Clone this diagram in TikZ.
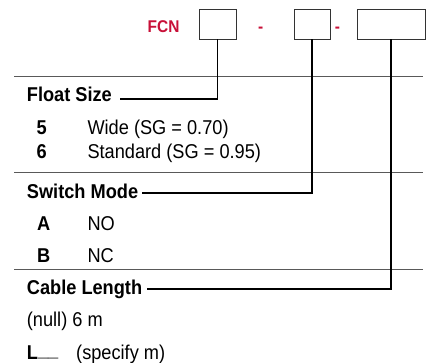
\documentclass[tikz,border=0pt]{standalone}
\usepackage{fontspec}
\setmainfont{Liberation Sans}[FakeStretch=0.91]
\definecolor{codered}{RGB}{200,16,56}

\begin{document}
\begin{tikzpicture}[x=1pt,y=-1pt,
  txt/.style={inner sep=0pt,anchor=base west,font=\fontsize{20}{22}\selectfont},
  head/.style={txt,font=\fontsize{20}{22}\selectfont\bfseries},
  codebox/.style={draw=black!80,line width=0.9pt,minimum height=30pt,inner sep=0pt},
  rule/.style={draw=black!65,line width=1pt},
  conn/.style={draw=black,line width=1.8pt}]
\useasboundingbox (0,0) rectangle (428,362);

% order code
\node[inner sep=0pt,anchor=base west,text=codered,font=\fontsize{17}{19}\selectfont\bfseries] (fcn) at (147.5,32.7) {FCN};
\node[codebox,minimum width=37pt] (boxsize) at (217.5,24) {};
\node[inner sep=0pt,anchor=base,text=codered,font=\fontsize{17}{19}\selectfont\bfseries] (dasha) at (260.8,32.7) {-};
\node[codebox,minimum width=36pt] (boxmode) at (312,24) {};
\node[inner sep=0pt,anchor=base,text=codered,font=\fontsize{17}{19}\selectfont\bfseries] (dashb) at (337.5,32.7) {-};
\node[codebox,minimum width=68pt] (boxcable) at (391,24) {};

% rules
\foreach \y in {76.7,172.7,269}
  \draw[rule] (14,\y) -- (423,\y);

% float size
\node[head] (sizehd) at (26.7,101.7) {Float Size};
\node[head] (key5) at (36.5,134.3) {5};
\node[txt] (wide) at (87.3,134.3) {Wide (SG = 0.70)};
\node[head] (key6) at (36.5,158) {6};
\node[txt] (standard) at (87.3,158) {Standard (SG = 0.95)};

% switch mode
\node[head] (modehd) at (26.7,198.3) {Switch Mode};
\node[head] (keyA) at (37,230) {A};
\node[txt] (no) at (87.3,230) {NO};
\node[head] (keyB) at (37,262.7) {B};
\node[txt] (nc) at (87.3,262.7) {NC};

% cable length
\node[head] (cablehd) at (26.7,294) {Cable Length};
\node[txt] (cablenull) at (26.7,326) {(null) 6 m};
\node[head] (keyL) at (26.7,359) {L\raisebox{2.5pt}{\_\_}};
\node[txt] (specify) at (76,359) {(specify m)};

% connectors
\coordinate (sizeend) at (120,99.3);
\coordinate (modeend) at (141.7,193.3);
\coordinate (cableend) at (146.7,289);
\draw[conn] (boxsize.south) |- (sizeend);
\draw[conn] (boxmode.south) |- (modeend);
\draw[conn] (boxcable.south) |- (cableend);
\end{tikzpicture}
\end{document}
